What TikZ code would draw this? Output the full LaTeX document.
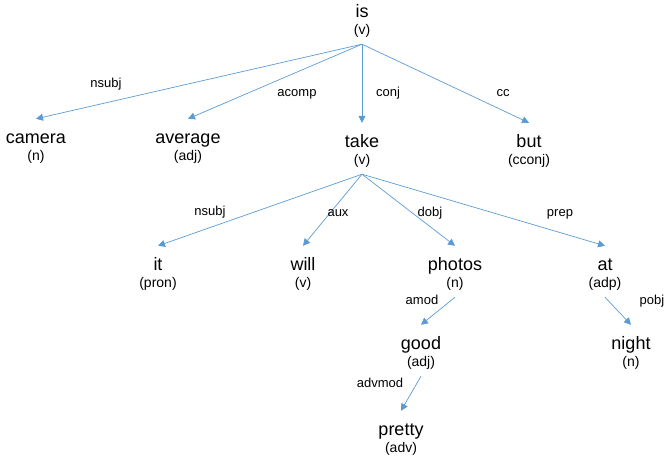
\documentclass[tikz,border=0pt]{standalone}
\usepackage{fontspec}
\setmainfont{Liberation Sans}
\usetikzlibrary{arrows.meta}
\definecolor{arrowblue}{HTML}{5B9BD5}
\tikzset{
  wordnode/.style={anchor=base, inner xsep=0pt, inner ysep=11pt, text height=13pt, text depth=4pt,
    font=\fontsize{18}{20}\selectfont},
  posnode/.style={anchor=base, inner xsep=0pt, inner ysep=6.5pt, text height=10pt, text depth=3.5pt,
    font=\fontsize{14}{16}\selectfont},
  deplabel/.style={inner sep=0pt, text height=9pt, text depth=3pt, font=\fontsize{13}{15}\selectfont},
  deparrow/.style={draw=arrowblue, line width=0.7pt, -{Triangle[length=7pt,width=7pt]}, shorten <=0pt}
}
\begin{document}
\begin{tikzpicture}[x=1pt,y=-1pt]
\useasboundingbox (0,0) rectangle (664,464);
% row 1
\node[wordnode] (is) at (362,17) {is};
\node[posnode] (isp) at (362,34) {(v)};
% row 2
\node[wordnode] (camera) at (36,143) {camera};
\node[posnode] (camerap) at (36,160) {(n)};
\node[wordnode] (average) at (188,143) {average};
\node[posnode] (averagep) at (188,160) {(adj)};
\node[wordnode] (take) at (362,147) {take};
\node[posnode] (takep) at (362,164) {(v)};
\node[wordnode] (but) at (529,147) {but};
\node[posnode] (butp) at (529,164) {(cconj)};
% row 3
\node[wordnode] (it) at (158,270) {it};
\node[posnode] (itp) at (158,287) {(pron)};
\node[wordnode] (will) at (303,270) {will};
\node[posnode] (willp) at (303,287) {(v)};
\node[wordnode] (photos) at (455,270) {photos};
\node[posnode] (photosp) at (455,287) {(n)};
\node[wordnode] (at) at (605,270) {at};
\node[posnode] (atp) at (605,287) {(adp)};
% row 4
\node[wordnode] (good) at (421,349) {good};
\node[posnode] (goodp) at (421,366) {(adj)};
\node[wordnode] (night) at (631,349) {night};
\node[posnode] (nightp) at (631,366) {(n)};
% row 5
\node[wordnode] (pretty) at (401,435) {pretty};
\node[posnode] (prettyp) at (401,452) {(adv)};
% arrows
\draw[deparrow] (isp.south) -- (camera.north);
\draw[deparrow] (isp.south) -- (average.north);
\draw[deparrow] (isp.south) -- (take.north);
\draw[deparrow] (isp.south) -- (but.north);
\draw[deparrow] (takep.south) -- (it.north);
\draw[deparrow] (takep.south) -- (will.north);
\draw[deparrow] (takep.south) -- (photos.north);
\draw[deparrow] (takep.south) -- (at.north);
\draw[deparrow] (photosp.south) -- (good.north);
\draw[deparrow] (atp.south) -- (night.north);
\draw[deparrow] (goodp.south) -- (pretty.north);
% labels
\node[deplabel] (l1) at (106,84) {nsubj};
\node[deplabel] (l2) at (297,93) {acomp};
\node[deplabel] (l3) at (388,93) {conj};
\node[deplabel] (l4) at (503,93) {cc};
\node[deplabel] (l5) at (210,212.5) {nsubj};
\node[deplabel] (l6) at (338,213) {aux};
\node[deplabel] (l7) at (430,213) {dobj};
\node[deplabel] (l8) at (560,213) {prep};
\node[deplabel] (l9) at (422,301) {amod};
\node[deplabel] (l10) at (652,301) {pobj};
\node[deplabel] (l11) at (380,384) {advmod};
\end{tikzpicture}
\end{document}
